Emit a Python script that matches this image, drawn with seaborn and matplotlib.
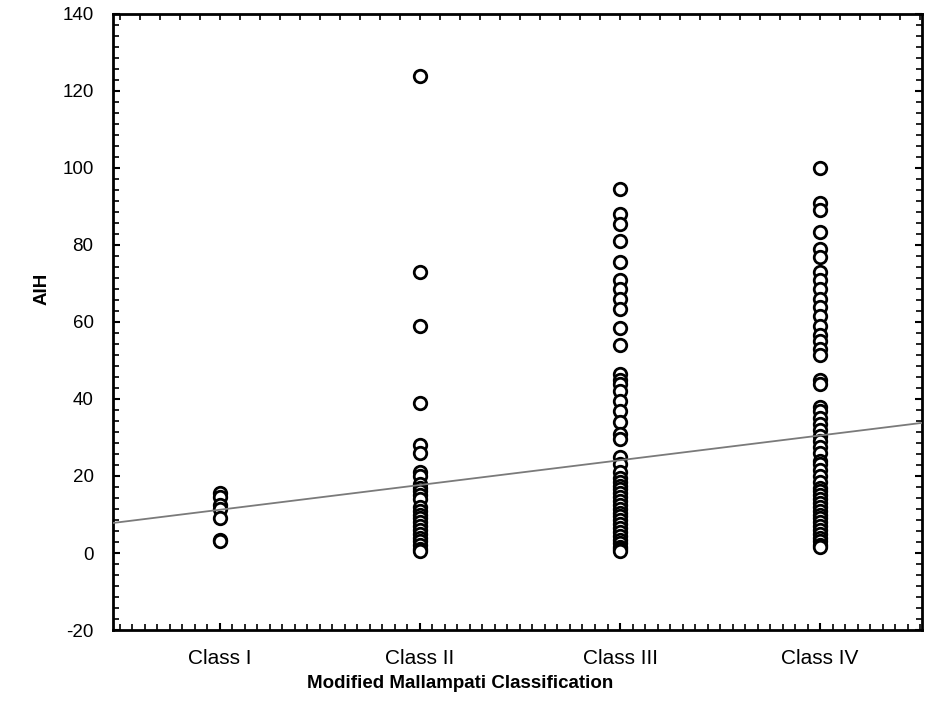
import numpy as np
import pandas as pd
import seaborn as sns
import matplotlib
matplotlib.use("Agg")
import matplotlib.pyplot as plt
from matplotlib.ticker import MultipleLocator, AutoMinorLocator

# values
classes = ['Class I', 'Class II', 'Class III', 'Class IV']

aih_class1 = [15.5, 14.5, 12.5, 11.5, 9, 3.5, 3]
aih_class2 = [124, 73, 59, 39, 28, 26, 21, 20, 18, 17, 16, 15, 14, 12, 11,
              10, 9, 8, 7, 6, 5, 4, 3, 2, 1, 0.5]
aih_class3 = [94.5, 88, 85.5, 81, 75.5, 71, 68.5, 66, 63.5, 58.5, 54, 46.5, 45,
              44, 42, 39.5, 37, 34, 31, 29.5, 25, 23, 21, 19.5, 18.5, 17.5, 16.5,
              15.5, 14.5, 13.5, 12.5, 11.5, 10.5, 9.5, 8.5, 7.5, 6.5, 5.5, 4.5,
              3.5, 2.5, 1.5, 1, 0.5]
aih_class4 = [100, 91, 89, 83.5, 79, 77, 73, 71, 68.5, 66, 64, 61.5, 59, 56.5,
              55, 53, 51.5, 45, 44, 38, 37, 35, 33.5, 32, 30.5, 29, 27.5, 26, 24,
              23, 21.5, 20, 18.5, 17, 16, 15, 14, 13, 12, 11, 10, 9, 8, 7, 6, 5,
              4, 3, 2, 1.5]

# fitted line, read at the left and right frame edges (category coordinates)
fit_x = [-0.535, 3.51]
fit_y = [7.8, 33.8]

df = pd.DataFrame({
    'cls': (['Class I'] * len(aih_class1) + ['Class II'] * len(aih_class2)
            + ['Class III'] * len(aih_class3) + ['Class IV'] * len(aih_class4)),
    'AIH': aih_class1 + aih_class2 + aih_class3 + aih_class4,
})
fit = pd.DataFrame({'x': fit_x, 'y': fit_y})

sns.set_style('ticks')
plt.rcParams['font.family'] = ['Liberation Sans', 'DejaVu Sans']
plt.rcParams['axes.unicode_minus'] = False
plt.rcParams['text.color'] = 'black'
plt.rcParams['axes.labelcolor'] = 'black'
plt.rcParams['xtick.color'] = 'black'
plt.rcParams['ytick.color'] = 'black'

fig = plt.figure(figsize=(9.26, 7.13), dpi=100)
ax = fig.add_axes([0.122, 0.1164, 0.8737, 0.8640])

sns.stripplot(data=df, x='cls', y='AIH', order=classes, jitter=False,
              color='white', edgecolor='black', linewidth=2.0, size=9, ax=ax)
sns.lineplot(data=fit, x='x', y='y', color='#7a7a7a', linewidth=1.3, ax=ax,
             zorder=5)

ax.set_xlim(fit_x[0], fit_x[1])
ax.set_ylim(-20, 140)
ax.set_yticks(np.arange(-20, 141, 20))
ax.yaxis.set_minor_locator(AutoMinorLocator(7))
ax.xaxis.set_minor_locator(MultipleLocator(1 / 16))

for s in ax.spines.values():
    s.set_visible(True)
    s.set_linewidth(2)
    s.set_color('black')

ax.tick_params(axis='both', which='both', direction='in', color='black',
               labelcolor='black')
ax.tick_params(axis='y', which='both', left=True, right=True)
ax.tick_params(axis='x', which='both', bottom=True, top=False)
ax.tick_params(which='major', length=5, width=1.5)
ax.tick_params(which='minor', length=4, width=1.2)
ax.tick_params(axis='y', labelsize=13.5, pad=14)
ax.tick_params(axis='x', labelsize=15, pad=14)

top = ax.secondary_xaxis('top')
top.xaxis.set_major_locator(MultipleLocator(0.1))
top.tick_params(direction='in', length=4, width=1.2, labeltop=False)

ax.set_xlabel('Modified Mallampati Classification', fontsize=13.5,
              fontweight='bold')
ax.xaxis.set_label_coords(0.429, -0.073)
ax.set_ylabel('AIH', fontsize=13.5, fontweight='bold')
ax.yaxis.set_label_coords(-0.0776, 0.553)

fig.savefig('out.png', dpi=100)
